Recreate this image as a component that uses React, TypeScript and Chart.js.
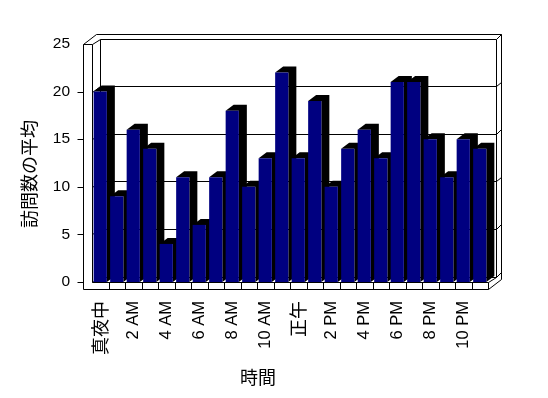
import React, { useEffect, useRef } from 'react';
import { Chart, registerables } from 'chart.js';

Chart.register(...registerables);

const hours = [
  '真夜中', '1 AM', '2 AM', '3 AM', '4 AM', '5 AM', '6 AM', '7 AM', '8 AM', '9 AM', '10 AM', '11 AM',
  '正午', '1 PM', '2 PM', '3 PM', '4 PM', '5 PM', '6 PM', '7 PM', '8 PM', '9 PM', '10 PM', '11 PM',
];
const visits = [20, 9, 16, 14, 4, 11, 6, 11, 18, 10, 13, 22, 13, 19, 10, 14, 16, 13, 21, 21, 15, 11, 15, 14];
const yTicks = [0, 5, 10, 15, 20, 25];
const yTitle = '訪問数の平均';
const xTitle = '時間';

const CJK = '"Noto Sans CJK JP", "Noto Sans CJK SC", sans-serif';
const LATIN = '"Liberation Sans", Arial, sans-serif';

const DI = { x: 7.5, y: -5.5 };
const DO = { x: 13, y: -10 };
const BD = { x: 8, y: -6 };
const WALL_T = 9;
const FLOOR_T = 7;

const isCJK = (s: string) => /[\u3000-\u9fff]/.test(s);

const threeD = {
  id: 'threeD',
  beforeDatasetsDraw(chart: any) {
    const { ctx, chartArea: a, scales } = chart;
    const xs = scales.x;
    const ys = scales.y;
    const L = a.left, R = a.right, T = a.top, B = a.bottom;
    const Lo = L - WALL_T, Bo = B + FLOOR_T;
    const p = (v: number) => Math.round(v) + 0.5;
    ctx.save();
    ctx.lineWidth = 1;
    ctx.strokeStyle = '#000';
    const path = (pts: number[][]) => {
      ctx.beginPath();
      pts.forEach(([X, Y], i) => (i ? ctx.lineTo(p(X), p(Y)) : ctx.moveTo(p(X), p(Y))));
      ctx.stroke();
    };
    // back wall
    path([[Lo + DO.x, T + DO.y], [R + DO.x, T + DO.y], [R + DO.x, Bo + DO.y]]);
    path([[L + DI.x, B + DI.y], [L + DI.x, T + DI.y], [R + DI.x, T + DI.y], [R + DI.x, B + DI.y]]);
    path([[R + DI.x, T + DI.y], [R + DO.x, T + DO.y]]);
    // left wall
    path([[Lo, Bo], [Lo, T], [L, T], [L, B]]);
    path([[Lo, T], [Lo + DO.x, T + DO.y]]);
    path([[L, T], [L + DI.x, T + DI.y]]);
    // floor
    path([[Lo, Bo], [R, Bo], [R, B], [L, B]]);
    path([[R, Bo], [R + DO.x, Bo + DO.y]]);
    path([[R, B], [R + DI.x, B + DI.y]]);
    const half = (xs.getPixelForValue(1) - xs.getPixelForValue(0)) / 2;
    for (let i = 1; i < hours.length; i++) {
      const bx = xs.getPixelForValue(i) - half;
      path([[bx, B], [bx, Bo]]);
    }
    // gridlines and ticks
    yTicks.forEach((v) => {
      const yy = ys.getPixelForValue(v);
      if (v < 25) {
        path([[L, yy], [L + DI.x, yy + DI.y], [R + DI.x, yy + DI.y], [R + DO.x, yy + DO.y]]);
        path([[Lo - 6, yy], [Lo, yy]]);
      }
    });
    // bar depth
    const meta = chart.getDatasetMeta(0);
    ctx.fillStyle = '#000';
    meta.data.forEach((el: any) => {
      const x0 = el.x - el.width / 2;
      const x1 = el.x + el.width / 2;
      const yt = el.y;
      const yb = el.base;
      ctx.beginPath();
      ctx.moveTo(x0, yt);
      ctx.lineTo(x0 + BD.x, yt + BD.y);
      ctx.lineTo(x1 + BD.x, yt + BD.y);
      ctx.lineTo(x1 + BD.x, yb + BD.y);
      ctx.lineTo(x1, yb);
      ctx.lineTo(x1, yt);
      ctx.closePath();
      ctx.fill();
    });
    ctx.restore();
  },
  afterDraw(chart: any) {
    const { ctx } = chart;
    ctx.save();
    ctx.fillStyle = '#000';
    ctx.font = `18px ${CJK}`;
    ctx.textAlign = 'center';
    ctx.textBaseline = 'middle';
    ctx.fillText(xTitle, 258, 377);
    ctx.translate(29, 174);
    ctx.rotate(-Math.PI / 2);
    ctx.fillText(yTitle, 0, 0);
    ctx.restore();
  },
};

export default function App() {
  const ref = useRef<HTMLCanvasElement | null>(null);
  useEffect(() => {
    document.body.style.margin = '0';
    const chart = new Chart(ref.current as HTMLCanvasElement, {
      type: 'bar',
      data: {
        labels: hours,
        datasets: [
          {
            data: visits,
            backgroundColor: '#000080',
            borderWidth: 0,
            barPercentage: 0.8,
            categoryPercentage: 1,
          },
        ],
      },
      options: {
        animation: false,
        responsive: true,
        maintainAspectRatio: false,
        events: [],
        layout: { padding: { top: 44, right: 60, left: 0, bottom: 0 } },
        plugins: { legend: { display: false }, tooltip: { enabled: false } },
        scales: {
          x: {
            type: 'category',
            offset: true,
            grid: { display: false, drawTicks: false },
            border: { display: false },
            afterFit: (s: any) => {
              s.height = 116;
            },
            ticks: {
              autoSkip: false,
              maxRotation: 90,
              minRotation: 90,
              padding: 19,
              color: '#000',
              font: (c: any) =>
                isCJK(hours[c.index] || '') ? { family: CJK, size: 18 } : { family: LATIN, size: 16.5 },
              callback: (_v: any, i: number) => (i % 2 === 0 ? hours[i] : ''),
            },
          },
          y: {
            min: 0,
            max: 25,
            grid: { display: false, drawTicks: false },
            border: { display: false },
            afterFit: (s: any) => {
              s.width = 92;
            },
            ticks: {
              stepSize: 5,
              padding: 22,
              color: '#000',
              font: { family: LATIN, size: 15.5 },
            },
          },
        },
      },
      plugins: [threeD],
    });
    return () => chart.destroy();
  }, []);
  return (
    <div style={{ position: 'absolute', left: 0, top: 0, width: 548, height: 398, background: '#fff' }}>
      <canvas ref={ref} />
    </div>
  );
}
